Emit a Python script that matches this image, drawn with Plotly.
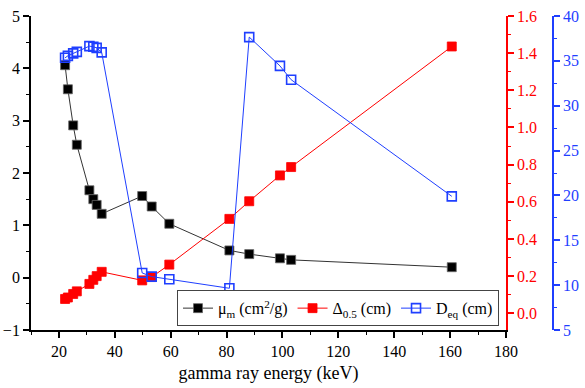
import plotly.graph_objects as go

energy = [22.2, 23.2, 25.1, 26.4, 30.9, 32.3, 33.5, 35.3, 49.8, 53.2, 59.5, 81.0, 88.1, 99.1, 103.1, 160.6]
mu_m = [4.06, 3.60, 2.91, 2.54, 1.67, 1.50, 1.39, 1.22, 1.56, 1.36, 1.03, 0.52, 0.45, 0.37, 0.34, 0.20]
delta_05 = [0.077, 0.085, 0.104, 0.118, 0.158, 0.180, 0.200, 0.223, 0.177, 0.195, 0.262, 0.508, 0.603, 0.742, 0.787, 1.436]
d_eq = [35.34, 35.56, 35.83, 36.0, 36.64, 36.57, 36.45, 35.94, 11.36, 10.95, 10.66, 9.65, 37.65, 34.44, 32.9, 19.9]

FONT = "'Liberation Serif', 'Times New Roman', Times, serif"
BLACK = "#000000"
RED = "#ff0000"
BLUE = "#1f3fff"

fig = go.Figure()
fig.add_trace(go.Scatter(
    x=energy, y=mu_m, name="μ<sub>m</sub> (cm<sup>2</sup>/g)", mode="lines+markers",
    line=dict(color="#333333", width=1),
    marker=dict(symbol="square", size=9, color=BLACK, line=dict(color="#666666", width=0.8)),
    yaxis="y"))
fig.add_trace(go.Scatter(
    x=energy, y=delta_05, name="Δ<sub>0.5</sub> (cm)", mode="lines+markers",
    line=dict(color=RED, width=1),
    marker=dict(symbol="square", size=9, color=RED, line=dict(color=RED, width=0.8)),
    yaxis="y2"))
fig.add_trace(go.Scatter(
    x=energy, y=d_eq, name="D<sub>eq</sub> (cm)", mode="lines+markers",
    line=dict(color=BLUE, width=1),
    marker=dict(symbol="square-open", size=9, color=BLUE, line=dict(color=BLUE, width=1.6)),
    yaxis="y3"))

tickfont = dict(family=FONT, size=16)

fig.update_layout(
    template="none",
    width=585, height=388,
    margin=dict(l=31, r=25, t=16, b=58),
    plot_bgcolor="white", paper_bgcolor="white",
    font=dict(family=FONT, size=16, color=BLACK),
    showlegend=True,
    legend=dict(
        orientation="h", x=0.8847, xanchor="right", y=0.012, yanchor="bottom",
        bordercolor="#444444", borderwidth=1, bgcolor="white",
        font=dict(family=FONT, size=16, color=BLACK),
        itemwidth=30, tracegroupgap=0,
    ),
    xaxis=dict(
        automargin=False,
        domain=[0, 0.8979], range=[10, 180], tickvals=[20, 40, 60, 80, 100, 120, 140, 160, 180],
        showline=True, linecolor=BLACK, linewidth=1.8, ticks="outside", ticklen=6, tickwidth=1.5,
        tickcolor=BLACK, showgrid=False, zeroline=False, tickfont=tickfont,
        minor=dict(tickvals=[10, 30, 50, 70, 90, 110, 130, 150, 170], ticks="outside", ticklen=3, tickwidth=1.2, tickcolor=BLACK),
        title=dict(text="gamma ray energy (keV)", font=dict(family=FONT, size=18), standoff=7),
    ),
    yaxis=dict(
        automargin=False,
        range=[-1, 5], dtick=1, showline=True, linecolor=BLACK, linewidth=1.8,
        ticks="outside", ticklen=6, tickwidth=1.5, tickcolor=BLACK, showgrid=False, zeroline=False,
        tickfont=tickfont,
        minor=dict(dtick=0.5, ticks="outside", ticklen=3, tickwidth=1.2, tickcolor=BLACK),
    ),
    yaxis2=dict(
        automargin=False,
        range=[-0.09, 1.6], overlaying="y", side="right", anchor="x",
        tickvals=[0.0, 0.2, 0.4, 0.6, 0.8, 1.0, 1.2, 1.4, 1.6], tickformat=".1f",
        showline=True, linecolor=RED, linewidth=1.8, ticks="outside", ticklen=6, tickwidth=1.5,
        tickcolor=RED, showgrid=False, zeroline=False, tickfont=dict(family=FONT, size=16, color=RED),
        minor=dict(tickvals=[0.1, 0.3, 0.5, 0.7, 0.9, 1.1, 1.3, 1.5], ticks="outside", ticklen=3, tickwidth=1.2, tickcolor=RED),
    ),
    yaxis3=dict(
        automargin=False,
        range=[5, 40], overlaying="y", side="right", anchor="free", position=0.9868,
        dtick=5, showline=True, linecolor=BLUE, linewidth=1.8, ticks="outside", ticklen=6, tickwidth=1.5,
        tickcolor=BLUE, showgrid=False, zeroline=False, tickfont=dict(family=FONT, size=16, color=BLUE),
        minor=dict(dtick=2.5, ticks="outside", ticklen=3, tickwidth=1.2, tickcolor=BLUE),
    ),
)

fig.write_html("out.html")
